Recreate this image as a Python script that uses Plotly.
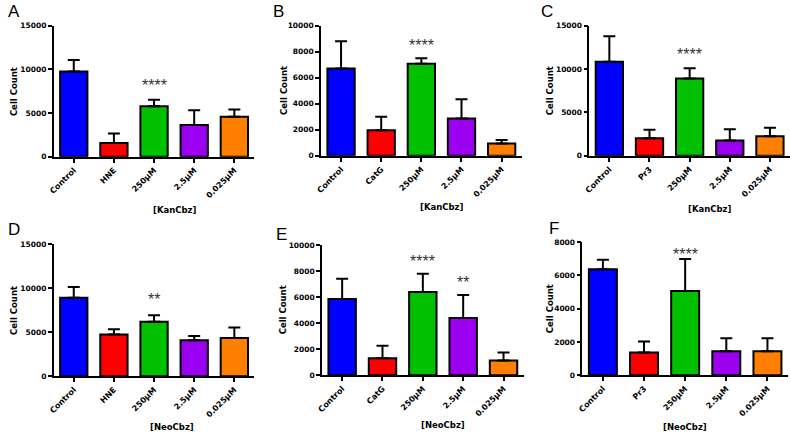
import plotly.graph_objects as go

# ---- data ----
treat_A = ["Control", "HNE", "250μM", "2.5μM", "0.025μM"]
treat_B = ["Control", "CatG", "250μM", "2.5μM", "0.025μM"]
treat_C = ["Control", "Pr3", "250μM", "2.5μM", "0.025μM"]

mean_A = [9750, 1575, 5775, 3640, 4575]
err_A = [1310, 1085, 750, 1685, 825]
mean_B = [6710, 1960, 7060, 2860, 955]
err_B = [2080, 1030, 430, 1490, 251]
mean_C = [10830, 2030, 8910, 1770, 2255]
err_C = [2930, 980, 1165, 1275, 975]
mean_D = [8890, 4740, 6185, 4070, 4330]
err_D = [1220, 590, 740, 485, 1190]
mean_E = [5860, 1297, 6385, 4390, 1122]
err_E = [1550, 973, 1395, 1770, 623]
mean_F = [6365, 1360, 5064, 1440, 1440]
err_F = [571, 670, 1911, 785, 785]

sig_A = ["", "", "****", "", ""]
sig_B = ["", "", "****", "", ""]
sig_C = ["", "", "****", "", ""]
sig_D = ["", "", "**", "", ""]
sig_E = ["", "", "****", "**", ""]
sig_F = ["", "", "****", "", ""]

yticks_A = [0, 5000, 10000, 15000]
yticks_B = [0, 2000, 4000, 6000, 8000, 10000]
yticks_F = [0, 2000, 4000, 6000, 8000]

bar_colors = ["#0000FF", "#FF0000", "#00C000", "#9B00F0", "#FF7F00"]

W, H = 790, 438

panels = [
    dict(letter="A", cats=treat_A, m=mean_A, e=err_A, s=sig_A, yt=yticks_A, xt="[KanCbz]",
         box=(49, 251, 22, 156), lp=(1, -4), ylx=9, xtp=(171, 210), ss=4),
    dict(letter="B", cats=treat_B, m=mean_B, e=err_B, s=sig_B, yt=yticks_B, xt="[KanCbz]",
         box=(318, 520, 22, 155), lp=(268, -4), ylx=280, xtp=(440, 207), ss=2),
    dict(letter="C", cats=treat_C, m=mean_C, e=err_C, s=sig_C, yt=yticks_A, xt="[KanCbz]",
         box=(588, 790, 22, 155), lp=(537, -4), ylx=548, xtp=(709, 209), ss=3),
    dict(letter="D", cats=treat_A, m=mean_D, e=err_D, s=sig_D, yt=yticks_A, xt="[NeoCbz]",
         box=(49, 251, 245, 380), lp=(1, 218), ylx=9, xtp=(168, 432), ss=5),
    dict(letter="E", cats=treat_B, m=mean_E, e=err_E, s=sig_E, yt=yticks_B, xt="[NeoCbz]",
         box=(319, 522, 246, 379), lp=(271, 224), ylx=280, xtp=(441, 430), ss=2),
    dict(letter="F", cats=treat_C, m=mean_F, e=err_F, s=sig_F, yt=yticks_F, xt="[NeoCbz]",
         box=(581, 788, 243, 379), lp=(545, 217), ylx=548, xtp=(684, 432), ss=-6),
]

fig = go.Figure()
layout = dict(width=W, height=H, margin=dict(l=0, r=0, t=0, b=0),
              paper_bgcolor="white", plot_bgcolor="white", showlegend=False)
annotations = []

for i, p in enumerate(panels, start=1):
    xa = "x" if i == 1 else f"x{i}"
    ya = "y" if i == 1 else f"y{i}"
    x0, x1, yt, yb = p["box"]
    fig.add_trace(go.Bar(
        x=p["cats"], y=p["m"], xaxis=xa, yaxis=ya, width=0.68,
        marker=dict(color=bar_colors, line=dict(color="black", width=2)),
        error_y=dict(type="data", array=p["e"], arrayminus=[0] * 5, symmetric=False,
                     color="black", thickness=2, width=6),
        hoverinfo="skip"))
    axx = dict(domain=[x0 / W, x1 / W], anchor=ya, type="category",
               range=[-0.5, 4.5], showline=True, linecolor="black", linewidth=1.5,
               ticks="outside", ticklen=4, tickwidth=1.5, tickcolor="black",
               showgrid=False, zeroline=False, tickangle=-45,
               tickfont=dict(family="DejaVu Sans", size=8, color="black", weight="bold"),
               fixedrange=True)
    axy = dict(domain=[1 - yb / H, 1 - yt / H], anchor=xa,
               range=[0, p["yt"][-1]], tickvals=p["yt"], tickformat="d",
               showline=True, linecolor="black", linewidth=1.5,
               ticks="outside", ticklen=4, tickwidth=1.5, tickcolor="black",
               showgrid=False, zeroline=False,
               tickfont=dict(family="DejaVu Sans", size=7.5, color="black", weight="bold"),
               fixedrange=True)
    layout["xaxis" if i == 1 else f"xaxis{i}"] = axx
    layout["yaxis" if i == 1 else f"yaxis{i}"] = axy

    annotations.append(dict(text=p["letter"], xref="paper", yref="paper",
                            x=p["lp"][0] / W, y=1 - p["lp"][1] / H, xanchor="left", yanchor="top",
                            showarrow=False, font=dict(family="Liberation Sans", size=17, color="black")))
    annotations.append(dict(text="Cell Count", xref="paper", yref="paper",
                            x=p["ylx"] / W, y=1 - (yt + yb) / 2 / H, xanchor="center", yanchor="middle",
                            textangle=-90, showarrow=False,
                            font=dict(family="DejaVu Sans", size=8.5, color="black", weight="bold")))
    annotations.append(dict(text=p["xt"], xref="paper", yref="paper",
                            x=p["xtp"][0] / W, y=1 - p["xtp"][1] / H, xanchor="center", yanchor="middle",
                            showarrow=False,
                            font=dict(family="DejaVu Sans", size=8.5, color="black", weight="bold")))
    for c, m, e, s in zip(p["cats"], p["m"], p["e"], p["s"]):
        if s:
            annotations.append(dict(text=s, xref=xa, yref=ya, x=c, y=m + e,
                                    xanchor="center", yanchor="bottom", yshift=p["ss"],
                                    showarrow=False,
                                    font=dict(family="Liberation Sans", size=16, color="#333333")))

layout["annotations"] = annotations
fig.update_layout(**layout)
fig.write_html("out.html", config={"displayModeBar": False},
               post_script="document.body.style.margin='0';document.body.style.overflow='hidden';")
